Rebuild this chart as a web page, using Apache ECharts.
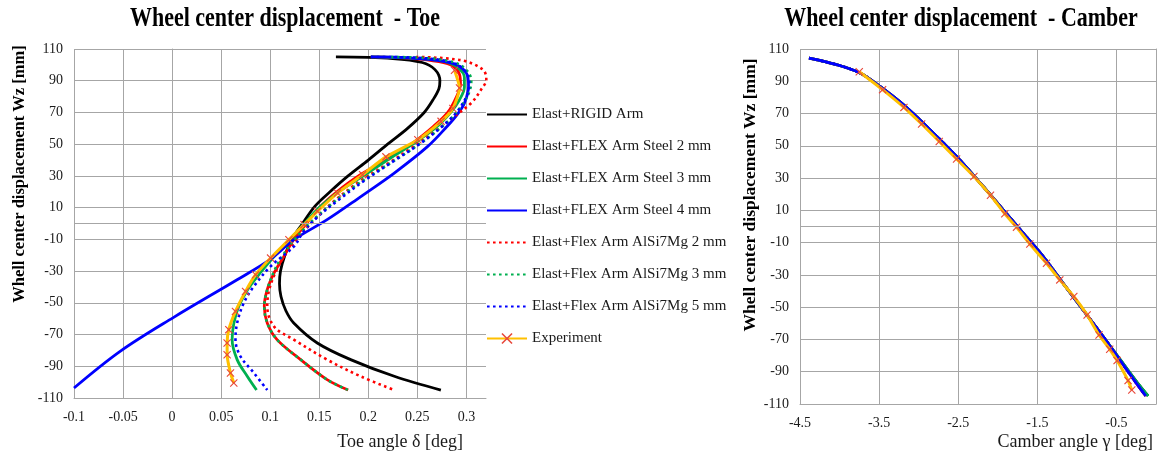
<!DOCTYPE html>
<html>
<head>
<meta charset="utf-8">
<script src="https://cdn.jsdelivr.net/npm/echarts@6/dist/echarts.min.js"></script>
<style>
html,body{margin:0;padding:0;background:#fff;}
#chart{width:1159px;height:457px;}
</style>
</head>
<body>
<div id="chart"></div>
<script>
// ---------- DATA ----------
const seriesNames = [
  'Elast+RIGID Arm',
  'Elast+FLEX Arm Steel 2 mm',
  'Elast+FLEX Arm Steel 3 mm',
  'Elast+FLEX Arm Steel 4 mm',
  'Elast+Flex Arm AlSi7Mg 2 mm',
  'Elast+Flex Arm AlSi7Mg 3 mm',
  'Elast+Flex Arm AlSi7Mg 5 mm',
  'Experiment'
];
const yTicks = [-110,-90,-70,-50,-30,-10,10,30,50,70,90,110];
const toeTicks = [-0.1,-0.05,0,0.05,0.1,0.15,0.2,0.25,0.3];
const camberTicks = [-4.5,-3.5,-2.5,-1.5,-0.5];

// Toe angle [deg], Wz [mm]
const toeRigid = [[0.167,105],[0.225,104],[0.255,101.5],[0.268,97],[0.273,90],[0.272,85],[0.266,78],[0.257,70],[0.24,60],[0.2197,50],[0.2,40],[0.1788,29.7],[0.161,20],[0.1455,10.8],[0.133,0],[0.122,-10],[0.115,-20],[0.1105,-30],[0.1095,-38],[0.111,-46],[0.116,-55],[0.124,-62.7],[0.148,-75.3],[0.182,-85.8],[0.2265,-96.3],[0.274,-105]];
const toeSteel2 = [[0.2026,105],[0.245,104],[0.272,102],[0.287,99],[0.293,94],[0.294,88],[0.29,80],[0.281,70],[0.266,61],[0.2436,50],[0.218,40],[0.19,30],[0.168,20],[0.15,10],[0.137,0],[0.124,-10],[0.114,-20.7],[0.104,-31.2],[0.097,-41.7],[0.094,-52.2],[0.097,-62.7],[0.107,-73.2],[0.131,-85.8],[0.158,-98.4],[0.1795,-105]];
const toeSteel3 = [[0.2026,105],[0.25,104],[0.278,102],[0.292,98],[0.298,92],[0.298,86],[0.293,78],[0.284,70],[0.27,61],[0.25,52],[0.222,41],[0.195,30],[0.17,20],[0.15,10],[0.135,0],[0.12,-10],[0.105,-20],[0.09,-31],[0.077,-41.7],[0.068,-52.2],[0.063,-62.7],[0.0612,-73.2],[0.0663,-85.8],[0.0766,-96.3],[0.0861,-105]];
const toeSteel4 = [[0.2026,105],[0.244,104.3],[0.2845,101.2],[0.2998,95],[0.3022,86.5],[0.2981,76],[0.291,69],[0.28,61],[0.2606,48.6],[0.2265,31.8],[0.1924,17],[0.158,2.4],[0.1243,-10.2],[0.0997,-22.8],[0.0667,-35.3],[0.0012,-59.3],[-0.053,-80.6],[-0.1,-103.7]];
const toeAl2 = [[0.2487,105],[0.2947,102.9],[0.3169,97],[0.3203,90.7],[0.315,84.4],[0.305,76],[0.2879,67.6],[0.268,58],[0.245,48],[0.218,37],[0.19,26],[0.163,13],[0.143,1],[0.127,-10],[0.115,-20],[0.106,-30],[0.099,-41.7],[0.097,-52],[0.104,-65],[0.124,-73.2],[0.158,-85.8],[0.192,-96.3],[0.2265,-105]];
const toeAl3 = [[0.223,105],[0.265,104],[0.29,101],[0.301,96],[0.305,90],[0.303,83],[0.296,75],[0.284,66],[0.265,56],[0.24,45],[0.212,34],[0.185,23],[0.16,11],[0.14,0],[0.125,-10],[0.113,-20],[0.104,-30],[0.097,-41.7],[0.094,-52.2],[0.097,-62.7],[0.107,-73.2],[0.131,-85.8],[0.158,-98.4],[0.1795,-105]];
const toeAl5 = [[0.2026,105],[0.25,104.5],[0.285,101.5],[0.299,96],[0.303,88],[0.3,80],[0.29,70],[0.275,61],[0.252,50],[0.225,39],[0.196,27],[0.17,15],[0.148,4],[0.133,-6],[0.1243,-14.4],[0.1004,-27],[0.0834,-39.6],[0.0731,-50],[0.0663,-62.7],[0.0646,-73.2],[0.0697,-83.7],[0.0834,-94.2],[0.097,-105]];
const toeExp = [[0.2879,96.6],[0.293,85.4],[0.2862,72.5],[0.2742,64.4],[0.2505,52.8],[0.218,42],[0.1942,30.8],[0.1686,19.2],[0.1481,7.7],[0.1345,-0.7],[0.1191,-10.2],[0.1004,-21.8],[0.0851,-32.3],[0.0749,-42.8],[0.0646,-55.4],[0.0578,-66.9],[0.0561,-75.3],[0.0561,-82.7],[0.0595,-94.2],[0.0629,-100.5]];

// Camber angle [deg], Wz [mm]
const camberRigid = [[-4.386,104.4],[-4.037,100.3],[-3.742,95.1],[-3.49,86.8],[-3.195,75.5],[-2.858,60],[-2.521,43.4],[-2.184,24.8],[-1.932,10.3],[-1.679,-4.1],[-1.426,-18.6],[-1.174,-35.2],[-0.921,-51.7],[-0.668,-68.2],[-0.45,-82.7],[-0.23,-97.2],[-0.1,-105]];
const camberFlex = [[-4.386,104.4],[-4.037,100.3],[-3.742,95.1],[-3.49,86.8],[-3.195,75.5],[-2.858,60],[-2.521,43.4],[-2.184,24.8],[-1.932,10.3],[-1.679,-4.1],[-1.426,-18.6],[-1.174,-35.2],[-0.921,-51.7],[-0.668,-68.2],[-0.458,-82.7],[-0.247,-97.2],[-0.13,-105]];
const camberExp = [[-3.751,95.9],[-3.456,84.8],[-3.186,73.8],[-2.963,63.5],[-2.74,52.7],[-2.521,41.8],[-2.302,31],[-2.092,19.4],[-1.911,7.9],[-1.763,-0.4],[-1.595,-10.8],[-1.384,-22.8],[-1.216,-33.1],[-1.039,-43.4],[-0.871,-54.8],[-0.72,-67.2],[-0.585,-76.1],[-0.492,-83.1],[-0.353,-95.5],[-0.306,-101.3]];

// ---------- STYLE ----------
const SERIF = '"Liberation Serif","DejaVu Serif",serif';
const GRID = '#a6a6a6';
const colors = ['#000000','#ff0000','#00b050','#0000ff','#ff0000','#00b050','#0000ff','#ffc000'];
const dotted = [false,false,false,false,true,true,true,false];
const X_SYMBOL = 'path://M0,1L1,0L5,4L9,0L10,1L6,5L10,9L9,10L5,6L1,10L0,9L4,5Z';

function fmt(v){ return String(+(+v).toFixed(2)); }

function yAxisCfg(gi){
  return {
    type:'value', gridIndex:gi, min:-110, max:110, interval:20,
    axisLine:{show:true,lineStyle:{color:GRID,width:1}},
    axisTick:{show:false},
    axisLabel:{margin:11,color:'#1a1a1a',fontFamily:SERIF,fontSize:14,formatter:fmt},
    splitLine:{show:true,lineStyle:{color:GRID,width:1}}
  };
}
function xAxisCfg(gi,min,max,interval){
  return {
    type:'value', gridIndex:gi, min:min, max:max, interval:interval,
    axisLine:{show:true,onZero:false,lineStyle:{color:GRID,width:1}},
    axisTick:{show:false},
    axisLabel:{margin:12,color:'#1a1a1a',fontFamily:SERIF,fontSize:14,formatter:fmt,showMaxLabel:false},
    splitLine:{show:true,showMaxLine:false,lineStyle:{color:GRID,width:1}}
  };
}
const zeroLine = {silent:true,symbol:'none',label:{show:false},animation:false,
  lineStyle:{color:GRID,width:1,type:'solid'},data:[{yAxis:0}]};

function simSeries(i,data,gi,withZero){
  const s = {
    name:seriesNames[i], type:'line', xAxisIndex:gi, yAxisIndex:gi,
    data:data, smooth:0.35, symbol:'circle', symbolSize:0, showSymbol:false,
    lineStyle:{color:colors[i],width:dotted[i]?2.6:2.8,type:dotted[i]?[2.6,3.4]:'solid'},
    itemStyle:{color:'rgba(0,0,0,0)',borderWidth:0}
  };
  if(withZero) s.markLine = zeroLine;
  return s;
}
function expSeries(data,gi){
  return {
    name:seriesNames[7], type:'line', xAxisIndex:gi, yAxisIndex:gi,
    data:data, smooth:0.2, symbol:X_SYMBOL, symbolSize:8, showSymbol:true,
    lineStyle:{color:colors[7],width:3},
    itemStyle:{color:'#e8473a'}
  };
}

const series = [
  simSeries(0,toeRigid,0,true),
  simSeries(1,toeSteel2,0),
  simSeries(2,toeSteel3,0),
  simSeries(3,toeSteel4,0),
  simSeries(4,toeAl2,0),
  simSeries(5,toeAl3,0),
  simSeries(6,toeAl5,0),
  expSeries(toeExp,0),
  simSeries(0,camberRigid,1,true),
  simSeries(1,camberFlex,1),
  simSeries(2,camberRigid,1),
  simSeries(4,camberFlex,1),
  simSeries(5,camberRigid,1),
  simSeries(6,camberFlex,1),
  simSeries(3,camberFlex,1),
  expSeries(camberExp,1)
];

const chart = echarts.init(document.getElementById('chart'), null, {renderer:'canvas'});
chart.setOption({
  animation:false,
  backgroundColor:'#ffffff',
  grid:[
    {left:74, top:49, width:412, height:349, containLabel:false},
    {left:800, top:49, width:356, height:355, containLabel:false}
  ],
  xAxis:[ xAxisCfg(0,-0.1,0.32,0.05), xAxisCfg(1,-4.5,0,1) ],
  yAxis:[ yAxisCfg(0), yAxisCfg(1) ],
  legend:{
    orient:'vertical', left:486, top:107, padding:0,
    itemWidth:40, itemHeight:14, itemGap:17,
    data:seriesNames,
    textStyle:{fontFamily:SERIF,fontSize:15,color:'#1a1a1a'}
  },
  graphic:[
    {type:'text',x:285,y:19,scaleY:1.2,style:{text:'Wheel center displacement  - Toe',font:'bold 22px '+SERIF,fill:'#000',textAlign:'center',textVerticalAlign:'middle'}},
    {type:'text',x:961,y:19,scaleY:1.2,style:{text:'Wheel center displacement  - Camber',font:'bold 22px '+SERIF,fill:'#000',textAlign:'center',textVerticalAlign:'middle'}},
    {type:'text',x:20,y:174,rotation:Math.PI/2,style:{text:'Whell center displacement Wz [mm]',font:'bold 16.5px '+SERIF,fill:'#000',textAlign:'center',textVerticalAlign:'middle'}},
    {type:'text',x:750,y:195,rotation:Math.PI/2,style:{text:'Whell center displacement Wz [mm]',font:'bold 17.5px '+SERIF,fill:'#000',textAlign:'center',textVerticalAlign:'middle'}},
    {type:'text',x:463,y:442,style:{text:'Toe angle δ [deg]',font:'18px '+SERIF,fill:'#1a1a1a',textAlign:'right',textVerticalAlign:'middle'}},
    {type:'text',x:1153,y:442,style:{text:'Camber angle γ [deg]',font:'18px '+SERIF,fill:'#1a1a1a',textAlign:'right',textVerticalAlign:'middle'}}
  ],
  series:series
});
</script>
</body>
</html>
